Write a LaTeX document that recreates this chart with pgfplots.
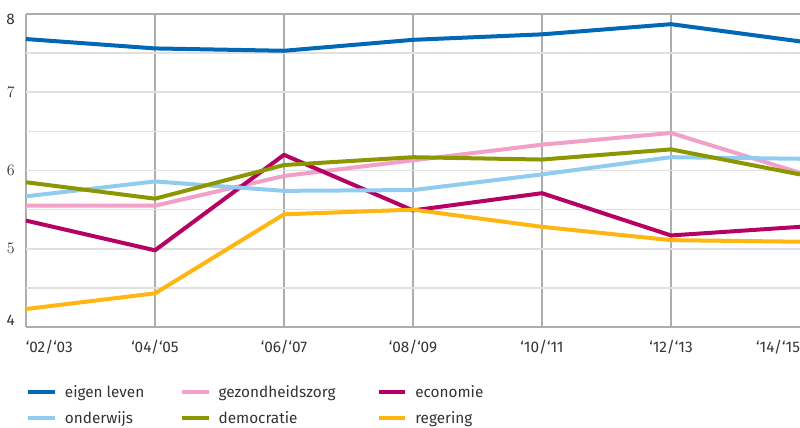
\documentclass[border=0pt]{standalone}
\usepackage{pgfplots}
\pgfplotsset{compat=1.18}
\usepackage{fontspec}
\setmainfont{Fira Sans}

\definecolor{cEigen}{RGB}{0,104,180}
\definecolor{cZorg}{RGB}{242,160,200}
\definecolor{cEcon}{RGB}{181,0,100}
\definecolor{cOnder}{RGB}{143,204,240}
\definecolor{cDemo}{RGB}{140,150,0}
\definecolor{cReg}{RGB}{255,182,18}
\definecolor{cText}{RGB}{51,51,51}

\newcommand{\lab}[2]{\makebox[#1][l]{\vphantom{Ag}#2}}

\begin{document}
\begin{tikzpicture}
% page = 800x428 px at 0.75pt per px
\path[use as bounding box] (-19.5pt,-75.75pt) rectangle (580.5pt,245.25pt);
\begin{axis}[
  at={(0pt,0pt)}, anchor=south west,
  scale only axis, width=580.5pt, height=234.75pt,
  xmin=0, xmax=6, ymin=4, ymax=8,
  axis line style={draw=none},
  major tick length=0pt, minor tick length=0pt,
  xtick={0,1,2,3,4,5},
  xticklabels={{\makebox[0pt][l]{‘02/‘03}},‘04/‘05,‘06/‘07,‘08/‘09,‘10/‘11,‘12/‘13},
  extra x ticks={6},
  extra x tick labels={{\makebox[0pt][r]{‘14/‘15}}},
  extra x tick style={grid=none},
  ytick={5,6,7},
  minor ytick={4.5,5.5,6.5,7.5},
  extra y ticks={4,8},
  extra y tick labels={{\smash{\raisebox{0.95pt}{4}}},{\smash{\raisebox{-7.7pt}{8}}}},
  extra y tick style={y grid style={draw=black!32, line width=1.1pt}},
  xmajorgrids, ymajorgrids, yminorgrids,
  x grid style={draw=black!32, line width=1.1pt},
  y grid style={draw=black!12, line width=1.2pt},
  minor grid style={draw=black!12, line width=1.2pt},
  ticklabel style={font=\fontsize{11.5}{13}\selectfont, text=cText},
  xticklabel style={inner sep=0pt, yshift=-9.4pt},
  yticklabel style={inner sep=0pt, xshift=-8.25pt},
  legend columns=3,
  legend cell align=left,
  legend image code/.code={\draw[#1] (0pt,0pt) -- (20pt,0pt);},
  legend style={
    at={(axis description cs:0,0)}, anchor=north west, yshift=-43.5pt,
    draw=none, fill=none, inner sep=0pt, row sep=9pt,
    nodes={inner sep=0pt},
    font=\fontsize{11.5}{13}\selectfont, text=cText,
    /tikz/every odd column/.append style={column sep=6pt},
    /tikz/every even column/.append style={column sep=0pt}},
  every axis plot/.append style={line width=3pt, line join=round},
]
\addplot[cEigen] coordinates {(0,7.68)(1,7.56)(2,7.53)(3,7.67)(4,7.74)(5,7.87)(6,7.65)};
\addlegendentry{\lab{86.25pt}{eigen leven}}
\addplot[cZorg] coordinates {(0,5.55)(1,5.55)(2,5.93)(3,6.13)(4,6.33)(5,6.48)(6,5.97)};
\addlegendentry{\lab{118.5pt}{gezondheidszorg}}
\addplot[cEcon] coordinates {(0,5.36)(1,4.98)(2,6.20)(3,5.49)(4,5.71)(5,5.17)(6,5.28)};
\addlegendentry{\lab{60pt}{economie}}
\addplot[cOnder] coordinates {(0,5.67)(1,5.86)(2,5.74)(3,5.75)(4,5.95)(5,6.17)(6,6.15)};
\addlegendentry{\lab{86.25pt}{onderwijs}}
\addplot[cDemo] coordinates {(0,5.85)(1,5.64)(2,6.07)(3,6.17)(4,6.14)(5,6.27)(6,5.95)};
\addlegendentry{\lab{118.5pt}{democratie}}
\addplot[cReg] coordinates {(0,4.23)(1,4.43)(2,5.44)(3,5.50)(4,5.28)(5,5.11)(6,5.09)};
\addlegendentry{\lab{60pt}{regering}}
\end{axis}
\end{tikzpicture}
\end{document}
